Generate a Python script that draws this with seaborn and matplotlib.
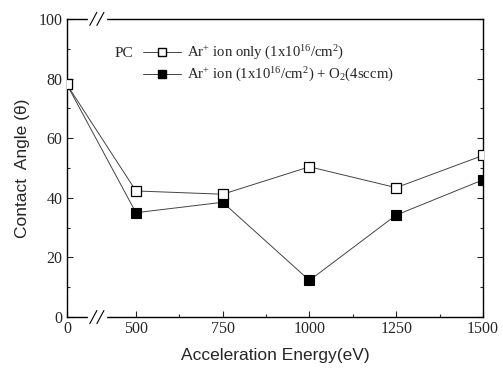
import numpy as np
import pandas as pd
import matplotlib
matplotlib.use("Agg")
import matplotlib.pyplot as plt
import seaborn as sns

energy = [0, 500, 750, 1000, 1250, 1500]
ar_only = [78, 42.3, 41.2, 50.4, 43.4, 54.2]
ar_o2 = [78, 35.0, 38.5, 12.3, 34.2, 46.0]
xticks = [0, 500, 750, 1000, 1250, 1500]
yticks = [0, 20, 40, 60, 80, 100]
label_only = r"Ar$^{+}$ ion only (1x10$^{16}$/cm$^{2}$)"
label_o2 = r"Ar$^{+}$ ion (1x10$^{16}$/cm$^{2}$) + O$_{2}$(4sccm)"

sns.set_style("ticks")
plt.rcParams["font.family"] = ["Liberation Serif", "DejaVu Serif"]
plt.rcParams["mathtext.fontset"] = "custom"
plt.rcParams["mathtext.rm"] = "Liberation Serif"
plt.rcParams["mathtext.it"] = "Liberation Serif:italic"

df1 = pd.DataFrame({"energy": energy, "angle": ar_only})
df2 = pd.DataFrame({"energy": energy, "angle": ar_o2})

fig = plt.figure(figsize=(5.03, 3.70), dpi=100)
ax = fig.add_axes([0.133, 0.143, 0.827, 0.806])

sns.lineplot(data=df2, x="energy", y="angle", ax=ax, color="#444444", lw=0.7,
             marker="s", markersize=7, markerfacecolor="black",
             markeredgecolor="black", markeredgewidth=0.8, zorder=3)
sns.lineplot(data=df1, x="energy", y="angle", ax=ax, color="#444444", lw=0.7,
             marker="s", markersize=7, markerfacecolor="white",
             markeredgecolor="black", markeredgewidth=0.9, zorder=4)

A = 199.0
def fwd(x):
    x = np.asarray(x, dtype=float)
    return np.where(x <= 500, x * A / 500.0, A + (x - 500.0))
def inv(p):
    p = np.asarray(p, dtype=float)
    return np.where(p <= A, p * 500.0 / A, p - A + 500.0)
ax.set_xscale("function", functions=(fwd, inv))
ax.set_xlim(0, 1500)
ax.set_ylim(0, 100)
ax.set_xticks(xticks)
ax.set_xticklabels([str(t) for t in xticks])
ax.set_yticks(yticks)
ax.set_yticks(np.arange(10, 100, 20), minor=True)
ax.set_xticks([625, 875, 1125, 1375], minor=True)
ax.tick_params(which="both", direction="in", top=False, right=True,
               labelsize=11.5, width=0.8, pad=3)
ax.tick_params(which="major", length=4)
ax.tick_params(which="minor", length=2.5)
for s in ax.spines.values():
    s.set_linewidth(1.0)
    s.set_color("black")

ax.set_xlabel("Acceleration Energy(eV)", family=["Liberation Sans"], fontsize=12.5, labelpad=8)
ax.set_ylabel("Contact  Angle (\u03b8)", family=["Liberation Sans"], fontsize=12.5, labelpad=6)

# axis break marks
for yb in (0.0, 1.0):
    ax.plot([0.053, 0.092], [yb, yb], transform=ax.transAxes, color="white",
            lw=2.5, clip_on=False, zorder=5)
    for x0 in (0.055, 0.072):
        ax.plot([x0, x0 + 0.017], [yb - 0.022, yb + 0.022], transform=ax.transAxes,
                color="black", lw=0.8, clip_on=False, zorder=6)

h1, = ax.plot([], [], color="#444444", lw=0.7, marker="s", markersize=6,
              markerfacecolor="white", markeredgecolor="black")
h2, = ax.plot([], [], color="#444444", lw=0.7, marker="s", markersize=6,
              markerfacecolor="black", markeredgecolor="black")
ax.legend([h1, h2], [label_only, label_o2], loc="upper left",
          bbox_to_anchor=(0.183, 0.915), frameon=False, fontsize=10.6,
          handlelength=2.6, handletextpad=0.4, labelspacing=0.25,
          borderpad=0, borderaxespad=0)
ax.text(0.115, 0.885, "PC", transform=ax.transAxes, fontsize=11,
        va="center", ha="left")

fig.savefig("out.png", dpi=100)
